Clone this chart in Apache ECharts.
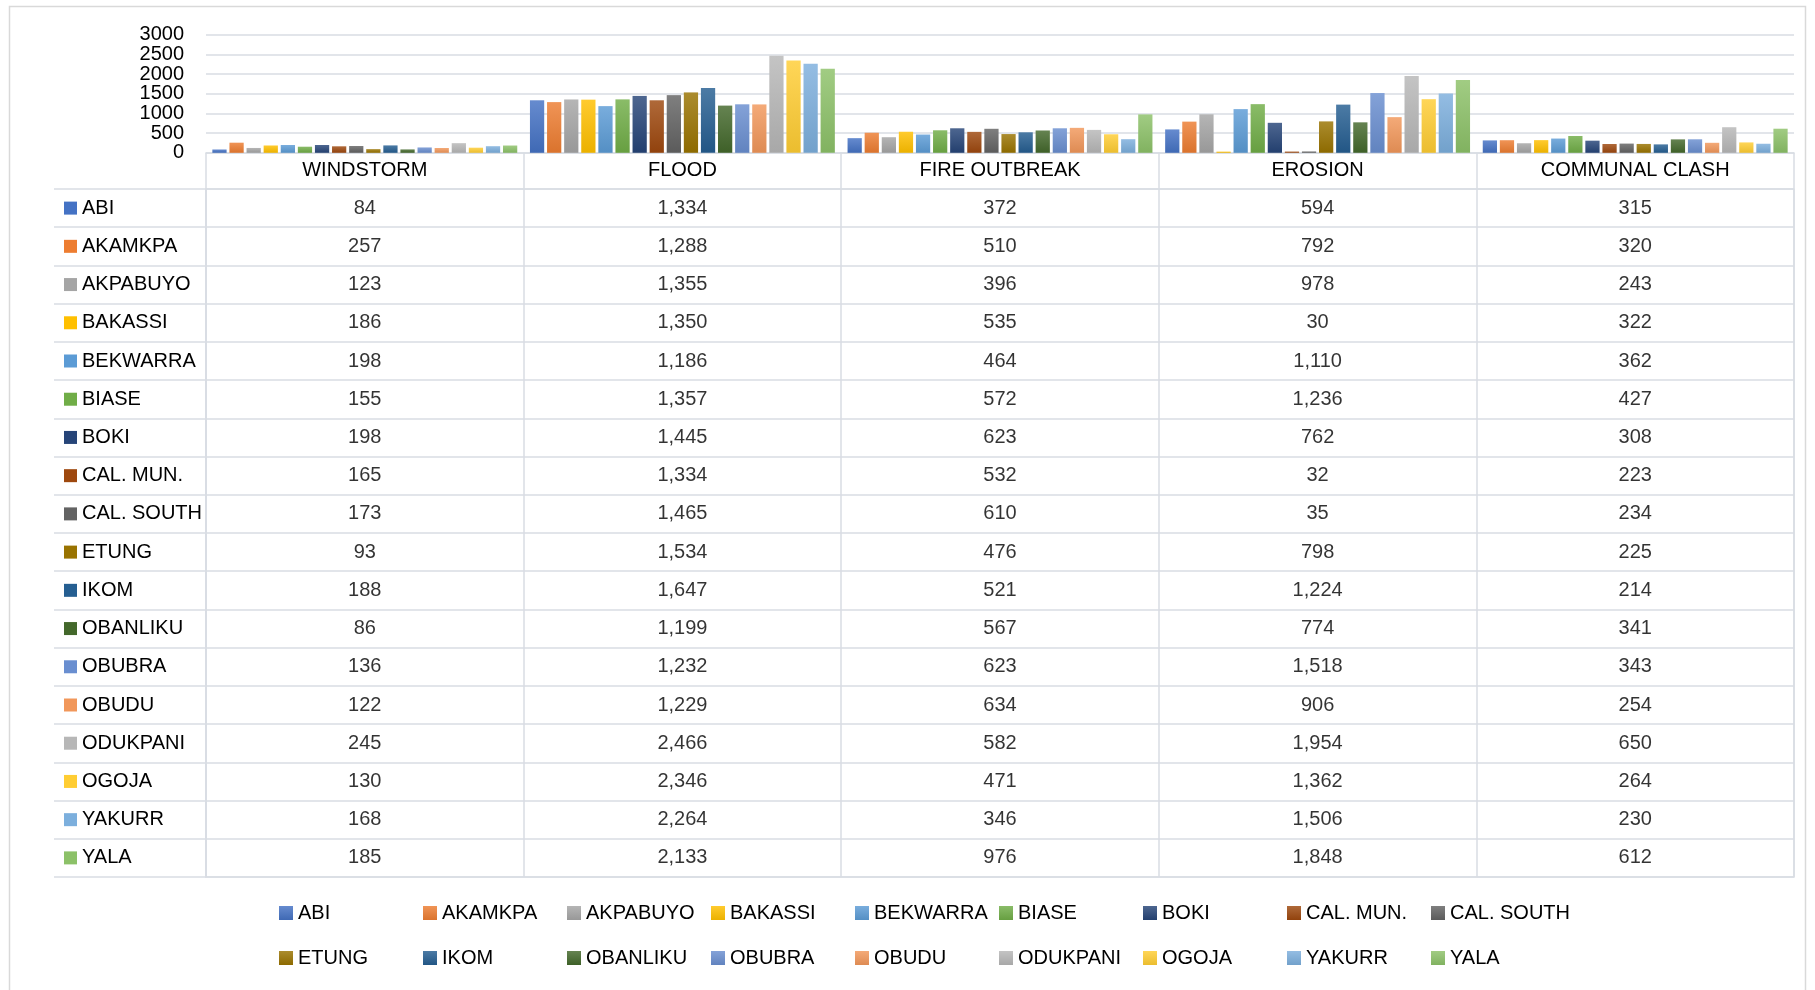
<!DOCTYPE html>
<html>
<head>
<meta charset="utf-8">
<script src="https://cdn.jsdelivr.net/npm/echarts@6/dist/echarts.min.js"></script>
<style>
html,body{margin:0;padding:0;background:#fff;}
#chart{width:1815px;height:990px;}
</style>
</head>
<body>
<div id="chart"></div>
<script>
const categories = ['WINDSTORM', 'FLOOD', 'FIRE OUTBREAK', 'EROSION', 'COMMUNAL CLASH'];
const districts = ['ABI', 'AKAMKPA', 'AKPABUYO', 'BAKASSI', 'BEKWARRA', 'BIASE', 'BOKI', 'CAL. MUN.', 'CAL. SOUTH',
  'ETUNG', 'IKOM', 'OBANLIKU', 'OBUBRA', 'OBUDU', 'ODUKPANI', 'OGOJA', 'YAKURR', 'YALA'];
const windstorm     = [84, 257, 123, 186, 198, 155, 198, 165, 173, 93, 188, 86, 136, 122, 245, 130, 168, 185];
const flood         = [1334, 1288, 1355, 1350, 1186, 1357, 1445, 1334, 1465, 1534, 1647, 1199, 1232, 1229, 2466, 2346, 2264, 2133];
const fireOutbreak  = [372, 510, 396, 535, 464, 572, 623, 532, 610, 476, 521, 567, 623, 634, 582, 471, 346, 976];
const erosion       = [594, 792, 978, 30, 1110, 1236, 762, 32, 35, 798, 1224, 774, 1518, 906, 1954, 1362, 1506, 1848];
const communalClash = [315, 320, 243, 322, 362, 427, 308, 223, 234, 225, 214, 341, 343, 254, 650, 264, 230, 612];
const valuesByCategory = [windstorm, flood, fireOutbreak, erosion, communalClash];
const yTickLabels = ['0', '500', '1000', '1500', '2000', '2500', '3000'];
const yMin = 0, yMax = 3000, yStep = 500;

const palette = ['#4472C4', '#ED7D31', '#A5A5A5', '#FFC000', '#5B9BD5', '#70AD47',
  '#264478', '#9E480E', '#636363', '#997300', '#255E91', '#43682B',
  '#698ED0', '#F1975A', '#B7B7B7', '#FFCD33', '#7CAFDD', '#8CC168'];

function mix(hex, target, t) {
  const n = parseInt(hex.slice(1), 16);
  const r = (n >> 16) & 255, g = (n >> 8) & 255, b = n & 255;
  const f = c => Math.round(c + (target - c) * t);
  return 'rgb(' + f(r) + ',' + f(g) + ',' + f(b) + ')';
}
function grad(hex) {
  return new echarts.graphic.LinearGradient(0, 0, 0, 1, [
    {offset: 0, color: mix(hex, 255, 0.18)},
    {offset: 1, color: mix(hex, 0, 0.08)}
  ]);
}

const FONT = '"Liberation Sans", Arial, sans-serif';
const TXT = '#000000';
const LINE = {color: '#d9dde3', width: 1.5};

const barSeries = districts.map((name, i) => ({
  name: name,
  type: 'bar',
  xAxisIndex: 0,
  yAxisIndex: 0,
  barGap: '20%',
  barCategoryGap: '4%',
  itemStyle: {color: grad(palette[i])},
  data: valuesByCategory.map(arr => arr[i])
}));

const tableData = [];
valuesByCategory.forEach((arr, c) => arr.forEach((v, d) => tableData.push([c, d, v])));

const rich = {t: {fontSize: 20, color: TXT, fontFamily: FONT, padding: [0, 0, 0, 5]}};
palette.forEach((col, i) => { rich['s' + i] = {width: 13, height: 13, backgroundColor: col}; });

const legendCommon = {
  left: 279,
  orient: 'horizontal',
  itemWidth: 14,
  itemHeight: 14,
  itemGap: 0,
  padding: 0,
  icon: 'rect',
  selectedMode: false,
  textStyle: {fontSize: 20, color: TXT, fontFamily: FONT, width: 125, lineHeight: 22}
};

const option = {
  animation: false,
  color: palette,
  textStyle: {fontFamily: FONT},
  graphic: [{
    type: 'rect', silent: true, z: -10,
    shape: {x: 9.5, y: 6.5, width: 1796, height: 1000},
    style: {fill: 'none', stroke: '#d9d9d9', lineWidth: 1.5}
  }],
  legend: [
    Object.assign({}, legendCommon, {top: 902, data: districts.slice(0, 9)}),
    Object.assign({}, legendCommon, {top: 947, data: districts.slice(9)})
  ],
  grid: [
    {left: 206, right: 21, top: 34.7, height: 118.1},
    {left: 206, right: 21, top: 189, height: 688, show: true, borderColor: LINE.color, borderWidth: LINE.width}
  ],
  xAxis: [
    {
      gridIndex: 0, type: 'category', data: categories,
      axisLine: {show: true, lineStyle: LINE},
      axisTick: {show: true, length: 36, interval: 0, lineStyle: LINE},
      axisLabel: {interval: 0, margin: 8, fontSize: 20, color: TXT, fontFamily: FONT},
      splitLine: {show: false}
    },
    {
      gridIndex: 1, type: 'category', data: categories,
      axisLine: {show: false}, axisTick: {show: false}, axisLabel: {show: false},
      splitLine: {show: true, interval: 0, lineStyle: LINE}
    }
  ],
  yAxis: [
    {
      gridIndex: 0, type: 'value', min: yMin, max: yMax, interval: yStep,
      axisLine: {show: false}, axisTick: {show: false},
      axisLabel: {show: false},
      splitLine: {show: true, lineStyle: LINE}
    },
    {
      gridIndex: 1, type: 'category', data: districts, inverse: true,
      axisLine: {show: true, lineStyle: LINE},
      axisTick: {show: true, length: 152, interval: 0, lineStyle: LINE},
      axisLabel: {
        interval: 0, align: 'left', margin: 142,
        formatter: (value, index) => '{s' + index + '|}{t|' + value + '}',
        rich: rich
      },
      splitLine: {show: true, interval: 0, lineStyle: LINE}
    },
    {
      gridIndex: 1, type: 'category', data: districts, inverse: true, offset: 152,
      axisLine: {show: true, lineStyle: LINE},
      axisTick: {show: false}, axisLabel: {show: false}, splitLine: {show: false}
    },
    {
      gridIndex: 0, type: 'category', data: yTickLabels, boundaryGap: false, position: 'left',
      axisLine: {show: false}, axisTick: {show: false}, splitLine: {show: false},
      axisLabel: {interval: 0, fontSize: 20, color: TXT, fontFamily: FONT, margin: 22}
    }
  ],
  series: barSeries.concat([{
    name: 'table',
    type: 'scatter',
    xAxisIndex: 1,
    yAxisIndex: 1,
    symbolSize: 1,
    itemStyle: {color: 'rgba(0,0,0,0)'},
    label: {
      show: true, position: 'inside', fontSize: 20, color: TXT, fontFamily: FONT,
      formatter: p => p.value[2].toLocaleString('en-US')
    },
    data: tableData
  }])
};

const chart = echarts.init(document.getElementById('chart'), null, {renderer: 'canvas'});
chart.setOption(option);
</script>
</body>
</html>
